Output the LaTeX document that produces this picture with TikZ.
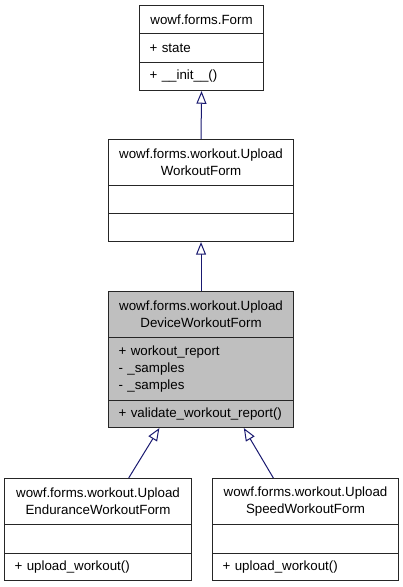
\documentclass[tikz,border=0pt]{standalone}
\usepackage{fontspec}
\setmainfont{Liberation Sans}
\usetikzlibrary{arrows.meta,calc}
\definecolor{edgeblue}{HTML}{191970}
\definecolor{hl}{HTML}{BFBFBF}
\tikzset{
  sec/.style={draw=black!85, line width=0.8pt, anchor=north west, inner sep=0pt, inner xsep=7.5pt, font=\fontsize{10}{12.5}\selectfont, align=center},
  lsec/.style={sec, align=left},
  inherit/.style={draw=edgeblue, line width=0.75pt, -{Triangle[open, length=9.5pt, width=7.5pt, fill=white]}}
}
\begin{document}
\begin{tikzpicture}[x=0.75pt,y=-0.75pt]
\useasboundingbox (0,0) rectangle (403,587);
% Form
\node[sec, minimum width=93pt, minimum height=21pt] (a1) at (139,5) {wowf.forms.Form};
\node[lsec, text width=78pt, minimum height=21.75pt] (a2) at (139,33) {+ state};
\node[lsec, text width=78pt, minimum height=21pt] (a3) at (139,62) {+ \_\_init\_\_()};
% UploadWorkoutForm
\node[sec, minimum width=138.75pt, minimum height=34.5pt] (b1) at (108,139) {wowf.forms.workout.Upload\\WorkoutForm};
\node[sec, minimum width=138.75pt, minimum height=21pt] (b2) at (108,185) {};
\node[sec, minimum width=138.75pt, minimum height=21pt] (b3) at (108,213) {};
% UploadDeviceWorkoutForm
\node[sec, fill=hl, minimum width=138.75pt, minimum height=34.5pt] (c1) at (108,291) {wowf.forms.workout.Upload\\DeviceWorkoutForm};
\node[lsec, fill=hl, text width=123.75pt, minimum height=47.25pt] (c2) at (108,337) {+ workout\_report\\- \_samples\\- \_samples};
\node[lsec, fill=hl, text width=123.75pt, minimum height=20.25pt] (c3) at (108,400) {+ validate\_workout\_report()};
% Endurance
\node[sec, minimum width=140.25pt, minimum height=34.5pt] (d1) at (4,478) {wowf.forms.workout.Upload\\EnduranceWorkoutForm};
\node[sec, minimum width=140.25pt, minimum height=21.75pt] (d2) at (4,524) {};
\node[lsec, text width=125.25pt, minimum height=20.25pt] (d3) at (4,553) {+ upload\_workout()};
% Speed
\node[sec, minimum width=139.5pt, minimum height=34.5pt] (e1) at (212,478) {wowf.forms.workout.Upload\\SpeedWorkoutForm};
\node[sec, minimum width=139.5pt, minimum height=21.75pt] (e2) at (212,524) {};
\node[lsec, text width=124.5pt, minimum height=20.25pt] (e3) at (212,553) {+ upload\_workout()};
% edges
\draw[inherit] (b1.north) -- (a3.south);
\draw[inherit] (c1.north) -- (b3.south);
\draw[inherit] ($(d1.north west)!0.663!(d1.north east)$) -- ($(c3.south west)!0.276!(c3.south east)$);
\draw[inherit] ($(e1.north west)!0.328!(e1.north east)$) -- ($(c3.south west)!0.73!(c3.south east)$);
\end{tikzpicture}
\end{document}
